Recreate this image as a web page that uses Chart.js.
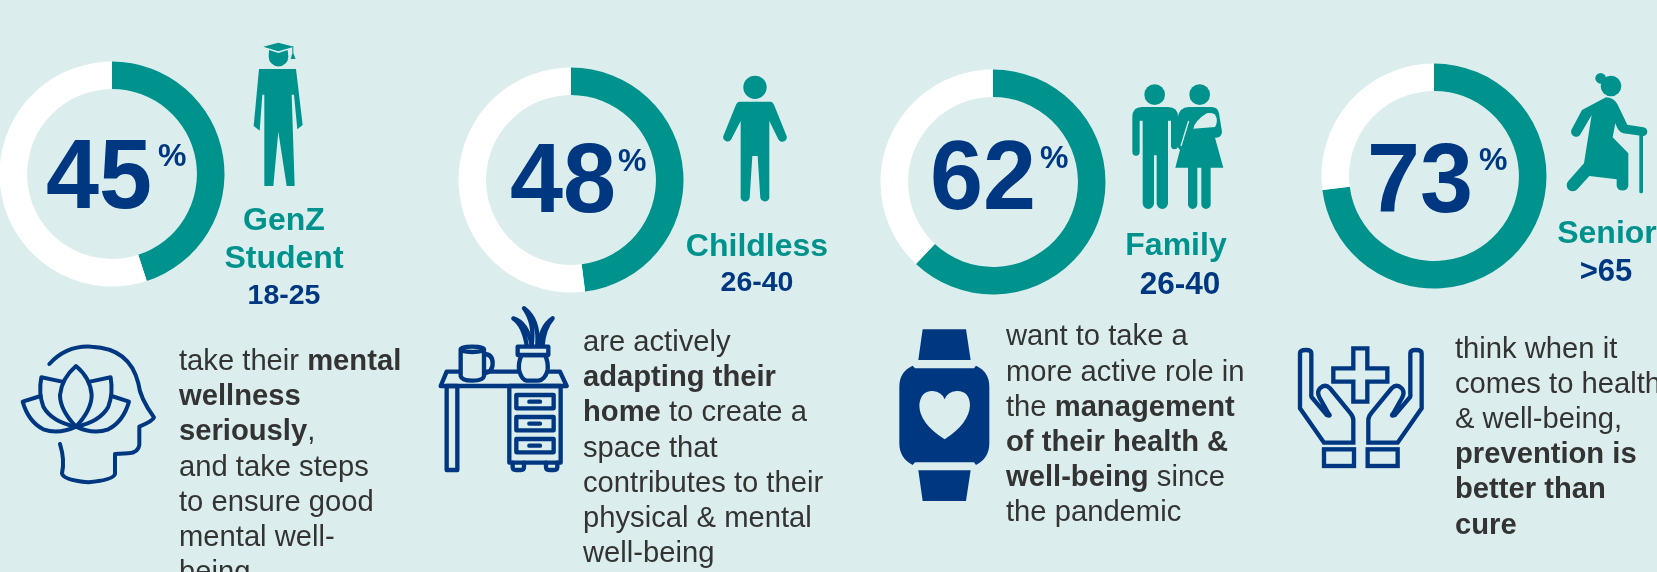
<!DOCTYPE html>
<html>
<head>
<meta charset="utf-8">
<title>Health and well-being by life stage</title>
<script src="https://cdn.jsdelivr.net/npm/chart.js@4"></script>
<style>
    html, body { margin: 0; padding: 0; background: #dbeeed; overflow: hidden; }
    #page { position: relative; width: 1657px; height: 572px; overflow: hidden; }
    #page canvas { position: absolute; }
    #art { position: absolute; left: 0; top: 0; font-family: "Liberation Sans", Arial, sans-serif; }
    .line-icon { fill: none; stroke: #003781; stroke-linejoin: round; stroke-linecap: round; }
</style>
</head>
<body>
<div id="page">
    <canvas id="ring0" width="226" height="226" style="left:-1px;top:61px"></canvas>
    <canvas id="ring1" width="226" height="226" style="left:458px;top:67px"></canvas>
    <canvas id="ring2" width="226" height="226" style="left:880px;top:69px"></canvas>
    <canvas id="ring3" width="226" height="226" style="left:1321px;top:63px"></canvas>

    <svg id="art" width="1657" height="572" viewBox="0 0 1657 572">
        <!-- graduate -->
        <g transform="translate(220 30) scale(0.3333)" fill="#00928d">
            <path d="M130 50 L175 38 L222 50 L175 64 Z"/>
            <path d="M147 60 L175 69 L203 60 L205 80 A29 29 0 0 1 146 80 Z"/>
            <path d="M217 50 H220 V70 L227 87 H212 L217 70 Z"/>
            <path d="M117 117 L228 117 L248 285 L232 298 L222 194 L215 194 L224 468 L200 468 L175 305 L160 468 L133 468 L133 194 L127 194 L119 302 L101 288 Z"/>
        </g>
        <!-- adult -->
        <g transform="translate(640 60) scale(0.3333)" fill="#00928d">
            <circle cx="345" cy="82" r="35"/>
            <path d="M298 125 L392 125 Q398 125 402 134 L439 226 A13 13 0 0 1 415 238 L388 183 L388 414 A14 14 0 0 1 361 414 L353 288 L337 288 L329 414 A14 14 0 0 1 302 414 L302 183 L274 238 A13 13 0 0 1 251 226 L288 134 Q292 125 298 125 Z"/>
        </g>
        <!-- couple with baby -->
        <g transform="translate(1100 50) scale(0.3333)" fill="#00928d">
            <circle cx="164" cy="134" r="31"/>
            <circle cx="299" cy="134" r="31"/>
            <path d="M126 171 H204 Q234 171 234 201 V290 A11 11 0 0 1 213 290 V212 H204 V460 A17 17 0 0 1 170 460 V316 H162 V460 A17 17 0 0 1 128 460 V212 H119 V306 A11 11 0 0 1 97 306 V201 Q97 171 126 171 Z"/>
            <path d="M232 205 Q238 171 266 171 H335 Q353 171 357 190 L366 245 Q366 263 345 263 L370 353 H332 V463 A14 14 0 0 1 304 463 V353 H292 V463 A14 14 0 0 1 264 463 V353 H226 L240 300 L232 290 Z"/>
            <path d="M266 213 L243 288" fill="none" stroke="#dbeeed" stroke-width="4"/>
            <path d="M280 236 Q285 212 320 190 Q345 184 350 205 Q352 222 345 231 Z" fill="#dbeeed"/>
        </g>
        <!-- older woman with cane -->
        <g transform="translate(1500 50) scale(0.3333)" fill="#00928d">
            <circle cx="333" cy="108" r="31"/>
            <circle cx="302" cy="85" r="16"/>
            <path d="M318 142 Q340 142 352 162 L382 224 L430 232 A13 13 0 0 1 428 258 L370 250 Q355 248 346 220 L338 262 L385 310 V408 A18 18 0 0 1 350 408 V388 L268 378 L232 418 A18 18 0 0 1 205 393 L252 340 L275 195 L243 250 A14 14 0 0 1 214 240 L246 180 Z"/>
            <rect x="418" y="250" width="11" height="180" rx="5"/>
        </g>

        <!-- head with lotus -->
        <g class="line-icon" transform="translate(0 310) scale(0.3333)" stroke-width="12">
            <path d="M148 162 Q200 105 275 110 Q390 115 415 220 Q420 265 462 322 Q460 332 418 350 L418 405 Q415 428 385 430 L345 432 L345 492 Q340 510 265 517 Q190 510 186 490 Q195 450 180 402"/>
            <path d="M228 350 Q180 300 180 255 Q185 205 228 168 Q272 205 275 255 Q275 300 228 350 Z"/>
            <path d="M186 215 L124 202 Q115 250 130 290 Q155 335 228 350"/>
            <path d="M270 215 L332 202 Q340 250 325 290 Q300 335 228 350"/>
            <path d="M122 258 L68 275 Q85 335 130 358 Q175 375 228 350"/>
            <path d="M335 258 L387 275 Q370 335 325 358 Q280 375 228 350"/>
        </g>
        <!-- desk with mug and plant -->
        <g class="line-icon" transform="translate(420 290) scale(0.3333)" stroke-width="13">
            <path d="M80 245 L420 245 L440 288 L62 288 Z"/>
            <rect x="80" y="288" width="32" height="252"/>
            <rect x="268" y="288" width="154" height="230"/>
            <rect x="289" y="315" width="112" height="40"/>
            <rect x="289" y="381" width="112" height="40"/>
            <rect x="289" y="447" width="112" height="40"/>
            <path d="M328 335 H360 M328 401 H360 M328 467 H360"/>
            <path d="M278 518 V532 Q278 540 288 540 H302 Q312 540 312 532 V518"/>
            <path d="M378 518 V532 Q378 540 388 540 H402 Q412 540 412 532 V518"/>
            <path d="M192 192 Q218 192 218 220 Q218 248 192 250"/>
            <path d="M122 178 Q122 170 157 170 Q192 170 192 178 V258 Q190 272 157 272 Q125 272 122 258 Z" style="fill:#dbeeed"/>
            <path d="M124 182 Q157 190 190 182"/>
            <path d="M305 195 Q295 215 297 240 Q305 270 320 272 H355 Q375 270 383 240 Q385 215 375 195 Z" style="fill:#dbeeed"/>
            <rect x="293" y="170" width="92" height="25" style="fill:#dbeeed"/>
            <path d="M320 165 Q310 105 280 85 Q322 98 335 165"/>
            <path d="M335 165 Q345 100 312 55 Q358 90 352 165"/>
            <path d="M358 165 Q362 110 398 85 Q372 115 368 165"/>
        </g>
        <!-- smart watch -->
        <g transform="translate(860 300) scale(0.3333)" fill="#003781">
            <path d="M188 88 H318 L332 180 H175 Z"/>
            <path d="M175 511 H332 L318 603 H188 Z"/>
            <path d="M165 205 H342 L348 197 Q388 215 388 260 V430 Q388 475 348 495 L342 487 H165 L158 495 Q118 475 118 430 V260 Q118 215 158 197 Z"/>
            <path d="M254 418 Q178 370 178 315 Q182 272 218 273 Q245 275 254 298 Q262 275 290 273 Q328 272 330 315 Q328 370 254 418 Z" fill="#dbeeed"/>
        </g>
        <!-- open hands and cross -->
        <g class="line-icon" transform="translate(1270 320) scale(0.3333)" stroke-width="13" style="stroke-linejoin:miter">
            <path d="M250 85 H292 V145 H352 V185 H292 V245 H250 V185 H190 V145 H250 Z"/>
            <g id="hand">
                <path d="M162 368 H250 V300 Q250 290 240 278 L180 205 Q165 190 150 205 Q140 215 148 232 L175 280 Q185 290 170 285 L128 235 Q122 230 124 220 V100 Q124 90 108 90 Q90 90 90 100 V265 Z"/>
                <rect x="162" y="388" width="90" height="50"/>
            </g>
            <use href="#hand" transform="translate(545 0) scale(-1 1)"/>
        </g>

        <g id="labels"></g>
    </svg>
</div>

<script>
// figures shown in the rings
const shares = [45, 48, 62, 73];
const remainders = [55, 52, 38, 27];

const segmentLines = [['GenZ', 'Student'], ['Childless'], ['Family'], ['Senior']];
const ageBands = ['18-25', '26-40', '26-40', '>65'];

const statements = [
    ['take their <b>mental</b>', '<b>wellness</b>', '<b>seriously</b>,', 'and take steps', 'to ensure good', 'mental well-', 'being'],
    ['are actively', '<b>adapting their</b>', '<b>home</b> to create a', 'space that', 'contributes to their', 'physical &amp; mental', 'well-being'],
    ['want to take a', 'more active role in', 'the <b>management</b>', '<b>of their health &amp;</b>', '<b>well-being</b> since', 'the pandemic'],
    ['think when it', 'comes to health', '&amp; well-being,', '<b>prevention is</b>', '<b>better than</b>', '<b>cure</b>']
];

const TEAL = '#00928d';
const NAVY = '#003781';
const INK = '#333333';

// where each column's text sits
const layout = [
    { numX: 46, numY: 208, pctX: 158, pctY: 166, segX: 284, segY: [230, 268], ageX: 284, ageY: 304, ageSize: 28.5, bodyX: 179, bodyY: [370, 405, 440, 476, 511, 546, 581] },
    { numX: 510, numY: 212, pctX: 618, pctY: 171, segX: 757, segY: [256], ageX: 757, ageY: 291, ageSize: 28.5, bodyX: 583, bodyY: [351, 386, 421, 457, 492, 527, 562] },
    { numX: 930, numY: 209, pctX: 1040, pctY: 168, segX: 1176, segY: [255], ageX: 1180, ageY: 294, ageSize: 31.5, bodyX: 1006, bodyY: [345, 381, 416, 451, 486, 521] },
    { numX: 1367, numY: 212, pctX: 1479, pctY: 170, segX: 1607, segY: [243], ageX: 1606, ageY: 281, ageSize: 31, bodyX: 1455, bodyY: [358, 393, 428, 463, 498, 534] }
];

// segment and age labels, the big number and the paragraph per column
let markup = '';
shares.forEach(function(share, i) {
    const pos = layout[i];
    markup += `<text x="${pos.numX}" y="${pos.numY}" font-size="99" font-weight="700" fill="${NAVY}" textLength="106" lengthAdjust="spacingAndGlyphs">${share}</text>`;
    markup += `<text x="${pos.pctX}" y="${pos.pctY}" font-size="32" font-weight="700" fill="${NAVY}">%</text>`;
    segmentLines[i].forEach(function(line, j) {
        markup += `<text x="${pos.segX}" y="${pos.segY[j]}" font-size="32" font-weight="700" fill="${TEAL}" text-anchor="middle">${line}</text>`;
    });
    markup += `<text x="${pos.ageX}" y="${pos.ageY}" font-size="${pos.ageSize}" font-weight="700" fill="${NAVY}" text-anchor="middle">${ageBands[i]}</text>`;
    statements[i].forEach(function(line, j) {
        const tspans = line.replace(/<b>/g, '<tspan font-weight="700">').replace(/<\/b>/g, '</tspan>');
        markup += `<text x="${pos.bodyX}" y="${pos.bodyY[j]}" font-size="29.2" fill="${INK}" xml:space="preserve">${tspans}</text>`;
    });
});
document.getElementById('labels').innerHTML = markup;

// one ring per column, filled clockwise from twelve o'clock
shares.forEach(function(share, i) {
    new Chart(document.getElementById('ring' + i), {
        type: 'doughnut',
        data: {
            labels: ['Agree', 'Other'],
            datasets: [{
                data: [share, remainders[i]],
                backgroundColor: [TEAL, '#ffffff'],
                borderWidth: 0
            }]
        },
        options: {
            responsive: false,
            animation: false,
            cutout: '75.5%',
            layout: { padding: 0.5 },
            plugins: {
                legend: { display: false },
                tooltip: { enabled: false }
            }
        }
    });
});
</script>
</body>
</html>
